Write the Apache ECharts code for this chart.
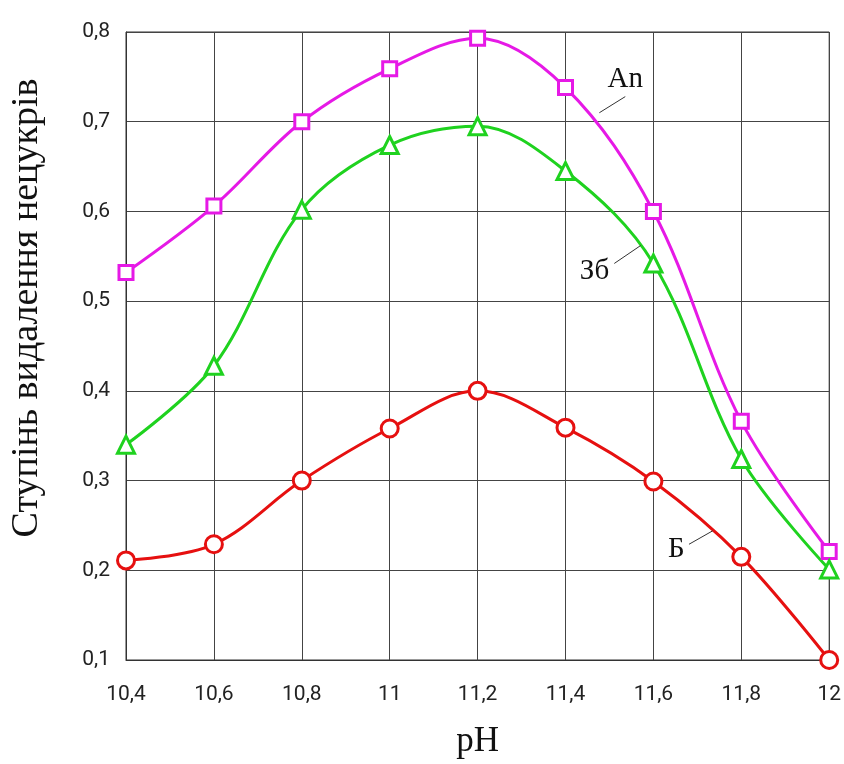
<!DOCTYPE html>
<html style="height: 100%">
<head>
    <meta charset="utf-8">
    <script src="https://cdn.jsdelivr.net/npm/echarts@6/dist/echarts.min.js"></script>
</head>
<body style="height: 100%; margin: 0; background: #fff">
<div id="container" style="width: 844px; height: 764px"></div>
<script type="text/javascript">
// pH values and series
const phValues = [10.4, 10.6, 10.8, 11.0, 11.2, 11.4, 11.6, 11.8, 12.0];
const anValues = [0.532, 0.606, 0.700, 0.759, 0.793, 0.738, 0.600, 0.366, 0.221];
const zbValues = [0.340, 0.428, 0.602, 0.674, 0.695, 0.645, 0.542, 0.324, 0.201];
const bValues  = [0.211, 0.229, 0.300, 0.358, 0.400, 0.359, 0.299, 0.215, 0.100];

// curve labels: [text, textX, textY, leaderFrom, leaderTo]
const curveLabels = [
    ['An', 11.536, 0.747, [11.477, 0.710], [11.536, 0.728]],
    ['Зб', 11.466, 0.533, [11.571, 0.562], [11.511, 0.542]],
    ['Б', 11.652, 0.223, [11.735, 0.244], [11.681, 0.229]]
];

function pairs(ys) {
    const out = [];
    for (let i = 0; i < phValues.length; i++) {
        out.push([phValues[i], ys[i]]);
    }
    return out;
}

function makeSeries(name, ys, color, symbol, size, lbl) {
    return {
        name: name,
        type: 'line',
        data: pairs(ys),
        smooth: 0.35,
        symbol: symbol,
        symbolSize: size,
        lineStyle: { color: color, width: 3 },
        itemStyle: { color: '#fff', borderColor: color, borderWidth: 3 },
        z: 3,
        markLine: {
            silent: true,
            symbol: 'none',
            label: { show: false },
            lineStyle: { color: '#333', width: 1, type: 'solid' },
            data: [[{ coord: lbl[3] }, { coord: lbl[4] }]]
        },
        markPoint: {
            silent: true,
            symbolSize: 0,
            label: {
                show: true,
                formatter: lbl[0],
                color: '#111',
                fontFamily: 'Liberation Serif',
                fontSize: 29
            },
            data: [{ coord: [lbl[1], lbl[2]] }]
        }
    };
}

const dom = document.getElementById('container');
const myChart = echarts.init(dom);

const option = {
    animation: false,
    grid: {
        left: 122,
        right: 9,
        top: 32,
        bottom: 99,
        show: true,
        borderColor: '#333',
        borderWidth: 1
    },
    xAxis: {
        type: 'value',
        min: 10.4,
        max: 12,
        interval: 0.2,
        name: 'pH',
        nameLocation: 'middle',
        nameGap: 64,
        nameTextStyle: { fontFamily: 'Liberation Serif', fontSize: 35, color: '#111' },
        axisLine: { lineStyle: { color: '#333' } },
        axisTick: { show: false },
        axisLabel: {
            margin: 24,
            fontFamily: 'Roboto',
            fontSize: 21,
            color: '#222',
            formatter: v => String(Math.round(v * 10) / 10).replace('.', ',')
        },
        splitLine: { show: true, lineStyle: { color: '#444', width: 1 } }
    },
    yAxis: {
        type: 'value',
        min: 0.1,
        max: 0.8,
        interval: 0.1,
        name: 'Ступінь видалення нецукрів',
        nameLocation: 'middle',
        nameGap: 80,
        nameTextStyle: {
            fontFamily: 'Liberation Serif',
            fontSize: 38,
            color: '#111',
            padding: [0, 0, 0, 76]
        },
        axisLine: { show: true, lineStyle: { color: '#333' } },
        axisTick: { show: false },
        axisLabel: {
            margin: 16,
            fontFamily: 'Roboto',
            fontSize: 21,
            color: '#222',
            padding: [0, 0, 9, 0],
            formatter: v => (Math.round(v * 10) / 10).toFixed(1).replace('.', ',')
        },
        splitLine: { show: true, lineStyle: { color: '#444', width: 1 } }
    },
    series: [
        makeSeries('An', anValues, '#e619e6', 'rect', 14, curveLabels[0]),
        makeSeries('Зб', zbValues, '#1fd21f', 'triangle', 17, curveLabels[1]),
        makeSeries('Б', bValues, '#e61010', 'circle', 17, curveLabels[2])
    ]
};

myChart.setOption(option, true);
</script>
</body>
</html>
